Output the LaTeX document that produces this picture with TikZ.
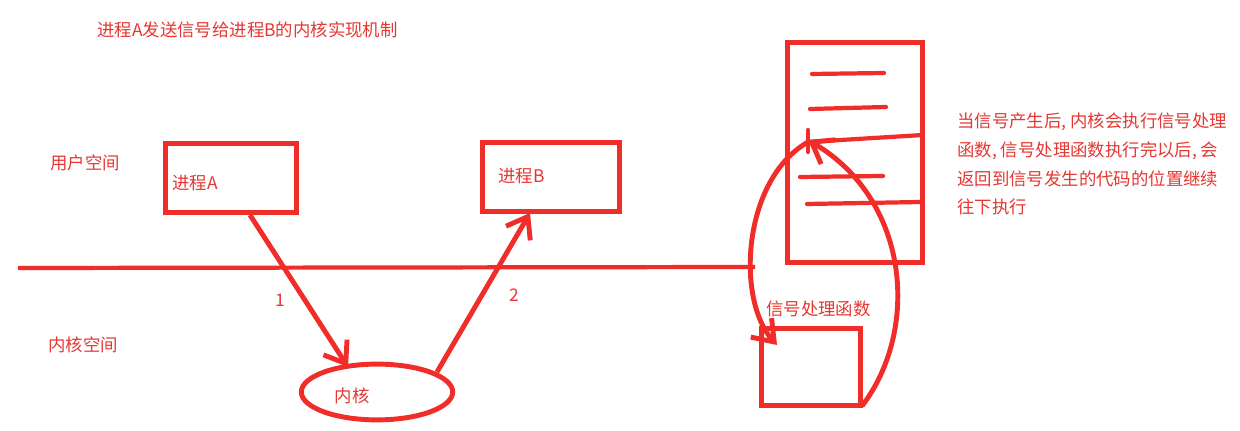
\documentclass[tikz,border=0pt]{standalone}
\usepackage{fontspec}
\setmainfont{Noto Sans CJK SC}
\usetikzlibrary{arrows.meta,shapes.geometric}
\definecolor{pen}{RGB}{240,45,40}
\definecolor{ink}{RGB}{230,55,50}
\begin{document}
\begin{tikzpicture}[x=0.02cm,y=-0.02cm,
  box/.style={draw=pen,line width=2.8pt,inner sep=0pt},
  lbl/.style={text=ink,font=\fontsize{9.9pt}{16.5pt}\selectfont,inner sep=0pt},
  con/.style={draw=pen,line width=2.8pt,-{Straight Barb[length=11pt,width=16pt,line width=2.8pt]}},
  stroke/.style={draw=pen,line width=2.4pt,line cap=round}]
\useasboundingbox (0,0) rectangle (1240,431);
\fill[white] (0,0) rectangle (1240,431);
% title and region labels
\node[lbl,anchor=west] (title) at (97,30) {进程A发送信号给进程B的内核实现机制};
\node[lbl,anchor=west] (user) at (50,163) {用户空间};
\node[lbl,anchor=west] (kern) at (48,345) {内核空间};
% boundary line
\coordinate (lineL) at (18,268);
\coordinate (lineR) at (755,267);
\draw[pen,line width=2.4pt] (lineL) -- (lineR);
% processes
\node[box,minimum width=132*0.567pt,minimum height=70*0.567pt] (A) at (231,178) {};
\node[lbl,anchor=west] (Atxt) at (172,183) {进程A};
\node[box,minimum width=138*0.567pt,minimum height=69*0.567pt] (B) at (551,177) {};
\node[lbl,anchor=west] (Btxt) at (498,176) {进程B};
% kernel
\node[box,ellipse,minimum width=152*0.567pt,minimum height=56*0.567pt] (K) at (377,392) {};
\node[lbl] (Ktxt) at (352,396) {内核};
% arrows
\coordinate (a1s) at (250,215);
\coordinate (a1e) at (348,367);
\coordinate (a2s) at (437,372);
\coordinate (a2e) at (530,213);
\draw[con] (a1s) -- (a1e);
\draw[con] (a2s) -- (a2e);
\node[lbl] (n1) at (280,300) {1};
\node[lbl] (n2) at (514,295) {2};
% code stack
\node[box,minimum width=136*0.567pt,minimum height=221*0.567pt] (S) at (855,152.5) {};
\coordinate (l1a) at (812,74); \coordinate (l1b) at (884,73);
\coordinate (l2a) at (810,109); \coordinate (l2b) at (886,107);
\coordinate (l3a) at (808,142); \coordinate (l3b) at (923,135);
\coordinate (l4a) at (800,177); \coordinate (l4b) at (883,176);
\coordinate (l5a) at (807,204); \coordinate (l5b) at (921,202);
\coordinate (tka) at (808,130); \coordinate (tkb) at (808,152);
\draw[stroke] (l1a) -- (l1b);
\draw[stroke] (l2a) -- (l2b);
\draw[stroke] (l3a) -- (l3b);
\draw[stroke] (l4a) -- (l4b);
\draw[stroke] (l5a) -- (l5b);
\draw[stroke] (tka) -- (tkb);
% handler
\node[box,minimum width=99*0.567pt,minimum height=78*0.567pt] (H) at (811,367) {};
\node[lbl,anchor=west] (Htxt) at (766,309) {信号处理函数};
\coordinate (cs) at (808,142);
\coordinate (ce) at (777,345);
\coordinate (rs) at (862,406);
\coordinate (re) at (808,140);
\draw[con] (cs) .. controls (742,180) and (736,300) .. (ce);
\draw[con] (rs) .. controls (920,330) and (910,200) .. (re);
% explanation
\node[lbl,anchor=north west,align=left] (expl) at (957,112) {当信号产生后, 内核会执行信号处理\\函数, 信号处理函数执行完以后, 会\\返回到信号发生的代码的位置继续\\往下执行};
\end{tikzpicture}
\end{document}
